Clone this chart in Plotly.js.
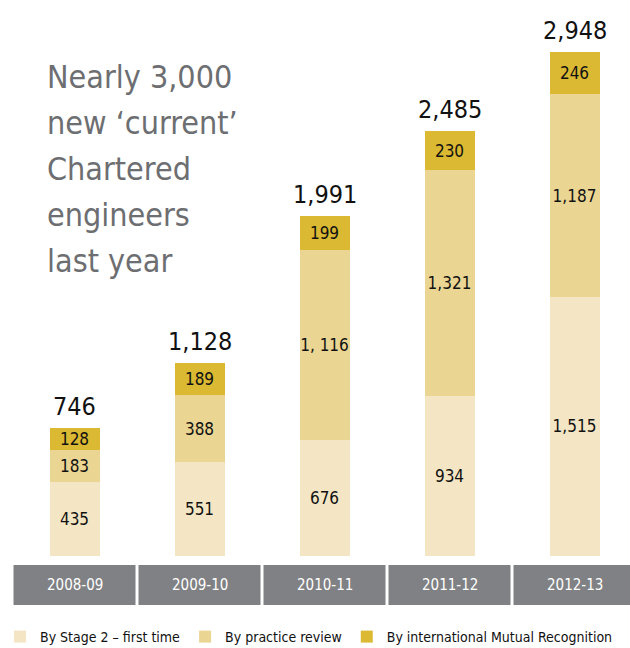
<!DOCTYPE html>
<html><head><meta charset="utf-8">
<script src="https://cdn.plot.ly/plotly-3.0.1.min.js"></script>
<style>html,body{margin:0;padding:0;background:#fff}#c{width:630px;height:648px}
.main-svg text{font-stretch:condensed !important}</style>
</head><body><div id="c"></div>
<script>
var categories = ['2008-09','2009-10','2010-11','2011-12','2012-13'];
var stage2 = [435, 551, 676, 934, 1515];
var practice = [183, 388, 1116, 1321, 1187];
var mutual = [128, 189, 199, 230, 246];
var totals = [746, 1128, 1991, 2485, 2948];
var practiceLabels = ['183','388','1, 116','1,321','1,187'];
var seriesNames = ['By Stage 2 \u2013 first time','By practice review','By international Mutual Recognition'];
var headlineLines = ['Nearly 3,000','new \u2018current\u2019','Chartered','engineers','last year'];

var FONT = '"DejaVu Sans Condensed", "DejaVu Sans", sans-serif';
var fmt = function(v){ return v.toLocaleString('en-US'); };
var xs = categories.map(function(_, i){ return i; });

function bar(name, vals, labels, color){
  return {type:'bar', name:name, x:xs, y:vals, text:labels, textposition:'inside', textangle:0,
    insidetextanchor:'middle', constraintext:'none', cliponaxis:false,
    textfont:{family:FONT, size:17, color:'#111'}, marker:{color:color, line:{width:0}},
    width:0.4, hoverinfo:'skip'};
}
var data = [
  bar(seriesNames[0], stage2, stage2.map(fmt), '#f4e6c4'),
  bar(seriesNames[1], practice, practiceLabels, '#ebd593'),
  bar(seriesNames[2], mutual, mutual.map(fmt), '#dbb932')
];

var annotations = totals.map(function(t, i){
  return {x:i, y:t, xref:'x', yref:'y', text:fmt(t), showarrow:false, yanchor:'bottom', yshift:5,
    font:{family:FONT, size:25, color:'#111'}};
});
categories.forEach(function(c, i){
  annotations.push({x:i, y:-29/556, xref:'x', yref:'paper', text:c, showarrow:false, yanchor:'middle',
    font:{family:FONT, size:15, color:'#ffffff'}});
});
headlineLines.forEach(function(line, i){
  annotations.push({x:33/618, y:1-(77+46*i)/556, xref:'paper', yref:'paper', xanchor:'left', yanchor:'middle', align:'left',
    text:line, showarrow:false, font:{family:FONT, size:32, color:'#6d6e71'}});
});

var shapes = categories.map(function(c, i){
  return {type:'rect', xref:'x', yref:'paper', x0:i-0.488, x1:i+0.488, y0:-(565-556)/556, y1:-(605-556)/556,
    fillcolor:'#808184', line:{width:0}, layer:'below'};
});

var layout = {
  width:630, height:648, margin:{l:12, r:0, t:0, b:92, autoexpand:false},
  paper_bgcolor:'#fff', plot_bgcolor:'#fff', barmode:'stack', showlegend:true,
  xaxis:{range:[-0.5, 4.444], showgrid:false, zeroline:false, showticklabels:false, showline:false, fixedrange:true},
  yaxis:{range:[0, 3252], showgrid:false, zeroline:false, showticklabels:false, showline:false, fixedrange:true},
  legend:{orientation:'h', xref:'container', yref:'container', x:-0.01, xanchor:'left', y:1-637/648, yanchor:'middle', traceorder:'normal',
    font:{family:FONT, size:14, color:'#111'}, itemwidth:30, bgcolor:'rgba(0,0,0,0)'},
  annotations:annotations, shapes:shapes
};
Plotly.newPlot('c', data, layout, {displayModeBar:false, staticPlot:true});
</script></body></html>
